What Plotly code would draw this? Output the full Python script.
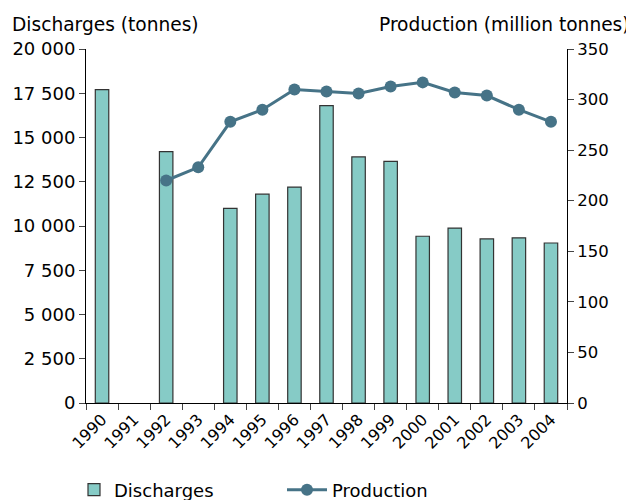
import plotly.graph_objects as go

years = [str(y) for y in range(1990, 2005)]
discharges = [17700, None, 14200, None, 11000, 11800, 12200, 16800, 13900, 13650, 9420, 9880, 9270, 9330, 9040]
production = [None, None, 220, 233, 278, 290, 310, 308, 306, 313, 317, 307, 304, 290, 278]

left_ticks = [0, 2500, 5000, 7500, 10000, 12500, 15000, 17500, 20000]
right_ticks = [0, 50, 100, 150, 200, 250, 300, 350]

W, H = 626, 492  # page body adds an 8px offset

font = dict(family="DejaVu Sans, Verdana, sans-serif", size=17, color="#000")

fig = go.Figure()
fig.add_trace(go.Bar(
    x=years, y=discharges, name="Discharges",
    marker=dict(color="#86CBC6", line=dict(color="#333", width=1.2)),
    width=0.42, legend="legend",
))
fig.add_trace(go.Scatter(
    x=years, y=production, name="Production", yaxis="y2",
    mode="lines+markers",
    line=dict(color="#467387", width=3),
    marker=dict(color="#467387", size=12),
    connectgaps=False, legend="legend2",
))

fig.update_layout(
    width=W, height=H,
    margin=dict(l=78, r=67, t=41, b=97, autoexpand=False),
    paper_bgcolor="white", plot_bgcolor="white",
    font=font,
    separators=". ",
    showlegend=True,
    legend=dict(orientation="h", x=66 / W, xref="container", xanchor="left",
                y=10 / H, yref="container", yanchor="middle",
                font=dict(size=18), itemwidth=30),
    legend2=dict(orientation="h", x=274 / W, xref="container", xanchor="left",
                 y=10 / H, yref="container", yanchor="middle",
                 font=dict(size=18), itemwidth=40),
    xaxis=dict(type="category", range=[-0.5, len(years) - 0.5], tickangle=-45,
               ticks="outside", tickson="boundaries",
               ticklen=6, showline=True, linecolor="#000", linewidth=1,
               showgrid=False, tickfont=dict(size=16), automargin=False),
    yaxis=dict(range=[0, 20000], tickvals=left_ticks, tickformat=",d",
               ticks="outside", ticklen=6, showline=True, linecolor="#000",
               showgrid=False, zeroline=False, tickfont=dict(size=18), automargin=False),
    yaxis2=dict(range=[0, 350], tickvals=right_ticks, overlaying="y", side="right",
                ticks="outside", ticklen=6, showline=True, linecolor="#000",
                showgrid=False, zeroline=False, tickfont=dict(size=16.5), automargin=False),
    annotations=[
        dict(text="Discharges (tonnes)", x=0, y=1, xref="paper", yref="paper",
             xanchor="left", yanchor="middle", showarrow=False, font=dict(size=18.6),
             xshift=-76, yshift=25),
        dict(text="Production (million tonnes)", x=1, y=1, xref="paper", yref="paper",
             xanchor="right", yanchor="middle", showarrow=False, font=dict(size=18.6),
             xshift=65, yshift=25),
    ],
)

fig.write_html("out.html")
